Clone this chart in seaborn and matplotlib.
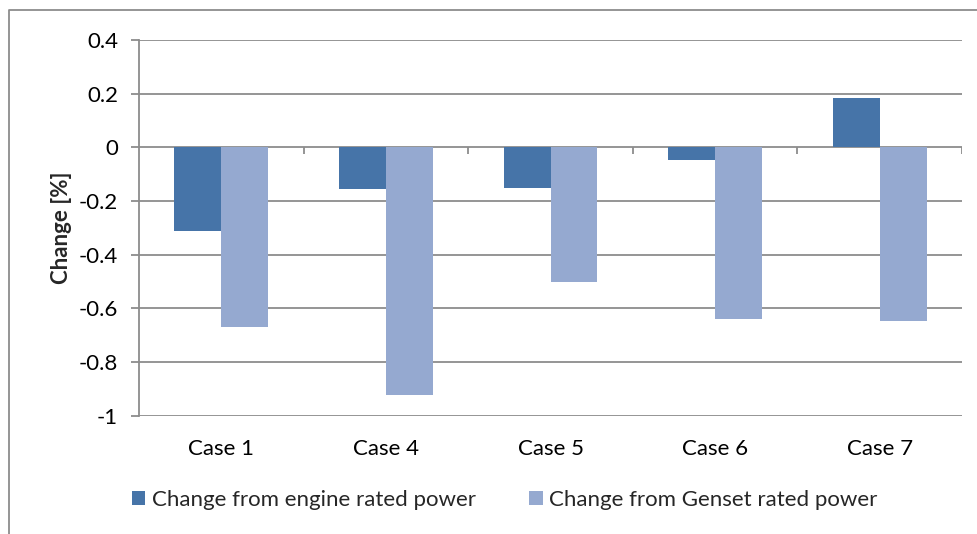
import matplotlib
matplotlib.use("Agg")
import matplotlib.pyplot as plt
import seaborn as sns
import pandas as pd
from matplotlib.lines import Line2D
from matplotlib.patches import Patch

cases = ["Case 1", "Case 4", "Case 5", "Case 6", "Case 7"]
engine = [-0.310, -0.155, -0.151, -0.047, 0.183]
genset = [-0.668, -0.923, -0.502, -0.641, -0.646]
series = ["Change from engine rated power", "Change from Genset rated power"]
colors = ["#4674A8", "#95A9D0"]
yticks = [0.4, 0.2, 0, -0.2, -0.4, -0.6, -0.8, -1]
ytick_labels = ["0.4", "0.2", "0", "-0.2", "-0.4", "-0.6", "-0.8", "-1"]

df = pd.DataFrame({
    "case": cases * 2,
    "value": engine + genset,
    "series": [series[0]] * len(cases) + [series[1]] * len(cases),
})

sns.set_theme(style="white")
plt.rcParams["font.family"] = ["Lato", "DejaVu Sans"]

FS = 16
W, H = 978, 534
fig = plt.figure(figsize=(W / 100, H / 100), dpi=100)
ax = fig.add_axes([139 / W, 1 - 415.7 / H, (962 - 139) / W, (415.7 - 40) / H])

sns.barplot(data=df, x="case", y="value", hue="series", order=cases,
            hue_order=series, palette=colors, width=0.57, saturation=1,
            ax=ax, legend=False, linewidth=0)

ax.set_ylim(-1, 0.4)
ax.set_xlim(-0.5, len(cases) - 0.5)
ax.set_yticks(yticks)
ax.set_yticklabels(ytick_labels, fontsize=FS, color="black")
grid_c = "#8c8c8c"
for y in yticks:
    ax.axhline(y, color=grid_c, lw=1.3, zorder=0.5)
ax.set_axisbelow(True)

for s in ["top", "right", "bottom"]:
    ax.spines[s].set_visible(False)
ax.spines["left"].set_color(grid_c)
ax.spines["left"].set_linewidth(1.3)
ax.tick_params(axis="y", length=6, width=1.3, color=grid_c, pad=9, left=True)
ax.tick_params(axis="x", length=0, pad=17, labelsize=FS, labelcolor="black")
ax.set_xlabel("")
ax.set_ylabel("Change [%]", fontsize=FS, fontweight="bold", labelpad=5)

# category boundary tick marks on the zero axis
bounds = [i - 0.5 for i in range(len(cases) + 1)]
ax.vlines(bounds[1:], -0.026, 0, color=grid_c, lw=1.3, zorder=3)

# outer chart border (left and top only visible)
fig.add_artist(Line2D([8.5 / W, 8.5 / W, 1.0], [0, 1 - 10 / H, 1 - 10 / H],
                      transform=fig.transFigure, color="#8c8c8c", lw=1.3))

handles = [Patch(facecolor=c, edgecolor="none") for c in colors]
fig.legend(handles, series, loc="center", bbox_to_anchor=(505 / W, 1 - 500 / H),
           ncol=2, frameon=False, fontsize=FS, handlelength=0.6,
           handleheight=0.6, handletextpad=0.3, columnspacing=2.4)

fig.savefig("out.png", dpi=100)
